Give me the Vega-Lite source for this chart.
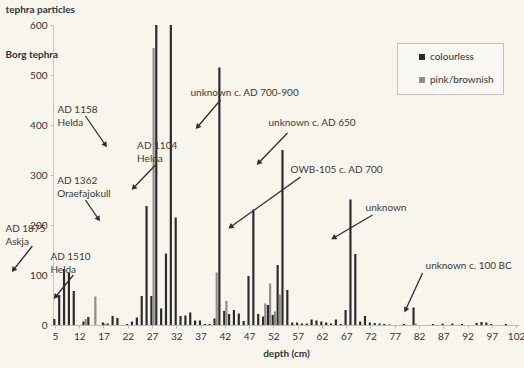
{
  "$schema": "https://vega.github.io/schema/vega-lite/v6.json",
  "autosize": {"type": "none"},
  "width": 466,
  "height": 300,
  "padding": {"left": 53, "top": 25, "right": 5, "bottom": 43},
  "background": "#f7f5ec",
  "config": {
    "view": {"stroke": null},
    "font": "Lato",
    "axis": {"labelFont": "Lato", "titleFont": "Lato", "labelColor": "#333", "titleColor": "#333"}
  },
  "datasets": {
    "bars": [
      {"depth": 5, "type": "colourless", "count": 12},
      {"depth": 6, "type": "colourless", "count": 60},
      {"depth": 8, "type": "colourless", "count": 112},
      {"depth": 10, "type": "colourless", "count": 105},
      {"depth": 11, "type": "colourless", "count": 68},
      {"depth": 13, "type": "colourless", "count": 7},
      {"depth": 13, "type": "pink/brownish", "count": 12},
      {"depth": 14, "type": "colourless", "count": 16},
      {"depth": 15, "type": "pink/brownish", "count": 57},
      {"depth": 17, "type": "colourless", "count": 5},
      {"depth": 17, "type": "pink/brownish", "count": 3},
      {"depth": 18, "type": "colourless", "count": 3},
      {"depth": 19, "type": "colourless", "count": 18},
      {"depth": 20, "type": "colourless", "count": 14},
      {"depth": 22, "type": "colourless", "count": 2},
      {"depth": 23, "type": "colourless", "count": 7},
      {"depth": 24, "type": "colourless", "count": 15},
      {"depth": 25, "type": "colourless", "count": 58},
      {"depth": 26, "type": "colourless", "count": 238},
      {"depth": 27, "type": "colourless", "count": 58},
      {"depth": 27, "type": "pink/brownish", "count": 554},
      {"depth": 28, "type": "colourless", "count": 640},
      {"depth": 29, "type": "colourless", "count": 33},
      {"depth": 30, "type": "colourless", "count": 143},
      {"depth": 31, "type": "colourless", "count": 640},
      {"depth": 32, "type": "colourless", "count": 215},
      {"depth": 33, "type": "colourless", "count": 18},
      {"depth": 34, "type": "colourless", "count": 19},
      {"depth": 35, "type": "colourless", "count": 25},
      {"depth": 36, "type": "colourless", "count": 9},
      {"depth": 37, "type": "colourless", "count": 9},
      {"depth": 38, "type": "colourless", "count": 2},
      {"depth": 39, "type": "colourless", "count": 2},
      {"depth": 40, "type": "colourless", "count": 13},
      {"depth": 40, "type": "pink/brownish", "count": 105},
      {"depth": 41, "type": "colourless", "count": 515},
      {"depth": 42, "type": "colourless", "count": 28},
      {"depth": 42, "type": "pink/brownish", "count": 48},
      {"depth": 43, "type": "colourless", "count": 22},
      {"depth": 44, "type": "colourless", "count": 30},
      {"depth": 45, "type": "colourless", "count": 23},
      {"depth": 46, "type": "colourless", "count": 8},
      {"depth": 47, "type": "colourless", "count": 98},
      {"depth": 48, "type": "colourless", "count": 231},
      {"depth": 49, "type": "colourless", "count": 22},
      {"depth": 50, "type": "colourless", "count": 17},
      {"depth": 50, "type": "pink/brownish", "count": 43},
      {"depth": 51, "type": "colourless", "count": 40},
      {"depth": 51, "type": "pink/brownish", "count": 83},
      {"depth": 52, "type": "colourless", "count": 20},
      {"depth": 52, "type": "pink/brownish", "count": 27},
      {"depth": 53, "type": "colourless", "count": 120},
      {"depth": 53, "type": "pink/brownish", "count": 61},
      {"depth": 54, "type": "colourless", "count": 350},
      {"depth": 55, "type": "colourless", "count": 70},
      {"depth": 56, "type": "colourless", "count": 5},
      {"depth": 57, "type": "colourless", "count": 5},
      {"depth": 58, "type": "colourless", "count": 3},
      {"depth": 59, "type": "colourless", "count": 3},
      {"depth": 60, "type": "colourless", "count": 11},
      {"depth": 61, "type": "colourless", "count": 9},
      {"depth": 62, "type": "colourless", "count": 7},
      {"depth": 63, "type": "colourless", "count": 5},
      {"depth": 64, "type": "colourless", "count": 3},
      {"depth": 65, "type": "colourless", "count": 11},
      {"depth": 66, "type": "colourless", "count": 2},
      {"depth": 67, "type": "colourless", "count": 30},
      {"depth": 68, "type": "colourless", "count": 251},
      {"depth": 69, "type": "colourless", "count": 142},
      {"depth": 70, "type": "colourless", "count": 7},
      {"depth": 71, "type": "colourless", "count": 18},
      {"depth": 72, "type": "colourless", "count": 5},
      {"depth": 73, "type": "colourless", "count": 4},
      {"depth": 74, "type": "colourless", "count": 3},
      {"depth": 75, "type": "colourless", "count": 2},
      {"depth": 76, "type": "colourless", "count": 1},
      {"depth": 79, "type": "colourless", "count": 2},
      {"depth": 81, "type": "colourless", "count": 35},
      {"depth": 81, "type": "pink/brownish", "count": 3},
      {"depth": 85, "type": "colourless", "count": 2},
      {"depth": 87, "type": "colourless", "count": 3},
      {"depth": 89, "type": "colourless", "count": 3},
      {"depth": 91, "type": "colourless", "count": 2},
      {"depth": 94, "type": "colourless", "count": 4},
      {"depth": 95, "type": "colourless", "count": 6},
      {"depth": 96, "type": "colourless", "count": 5},
      {"depth": 97, "type": "colourless", "count": 2},
      {"depth": 100, "type": "colourless", "count": 2}
    ],
    "notes": [
      {"x": 7.41, "y": 441, "t": "AD 1158|Helda"},
      {"x": 23.83, "y": 368, "t": "AD 1104|Helda"},
      {"x": 7.35, "y": 298, "t": "AD 1362|Oraefajokull"},
      {"x": -3.31, "y": 203, "t": "AD 1875|Askja"},
      {"x": 5.96, "y": 146, "t": "AD 1510|Helda"},
      {"x": 34.82, "y": 474, "t": "unknown c. AD 700-900"},
      {"x": 50.89, "y": 414, "t": "unknown c. AD 650"},
      {"x": 55.43, "y": 320, "t": "OWB-105 c. AD 700"},
      {"x": 70.89, "y": 244, "t": "unknown"},
      {"x": 83.25, "y": 128, "t": "unknown c. 100 BC"}
    ],
    "heads": [
      {"x": -3.31, "y": 551, "t": "Borg tephra"}
    ],
    "arrows": [
      {"x": 13.18, "y": 418, "x2": 17.30, "y2": 360, "a": 145},
      {"x": 27.60, "y": 320, "x2": 23.07, "y2": 274, "a": 224},
      {"x": 13.18, "y": 250, "x2": 15.86, "y2": 212, "a": 146},
      {"x": 2.25, "y": 158, "x2": -1.66, "y2": 110, "a": 218},
      {"x": 10.70, "y": 100, "x2": 6.99, "y2": 56, "a": 219},
      {"x": 41.00, "y": 450, "x2": 36.26, "y2": 396, "a": 220},
      {"x": 54.81, "y": 384, "x2": 48.83, "y2": 324, "a": 224},
      {"x": 57.49, "y": 296, "x2": 43.06, "y2": 196, "a": 234},
      {"x": 72.33, "y": 220, "x2": 64.29, "y2": 174, "a": 240},
      {"x": 82.63, "y": 104, "x2": 79.13, "y2": 30, "a": 205}
    ]
  },
  "layer": [
    {
      "mark": {"type": "rule", "color": "#d6d4cc", "strokeWidth": 1},
      "encoding": {"y": {"datum": 600, "type": "quantitative", "scale": {"domain": [0, 600]}}}
    },
    {
      "data": {"name": "bars"},
      "mark": {"type": "bar", "clip": true},
      "encoding": {
        "x": {
          "field": "depth",
          "type": "ordinal",
          "scale": {
            "domain": [5, 6, 8, 10, 11, 12, 13, 14, 15, 16, 17, 18, 19, 20, 21, 22, 23, 24, 25, 26, 27, 28, 29, 30, 31, 32, 33, 34, 35, 36, 37, 38, 39, 40, 41, 42, 43, 44, 45, 46, 47, 48, 49, 50, 51, 52, 53, 54, 55, 56, 57, 58, 59, 60, 61, 62, 63, 64, 65, 66, 67, 68, 69, 70, 71, 72, 73, 74, 75, 76, 77, 78, 79, 80, 81, 82, 83, 84, 85, 86, 87, 88, 89, 90, 91, 92, 93, 94, 95, 96, 97, 98, 99, 100, 101, 102],
            "paddingInner": 0.1,
            "paddingOuter": 0.05
          },
          "axis": {
            "values": [5, 12, 17, 22, 27, 32, 37, 42, 47, 52, 57, 62, 67, 72, 77, 82, 87, 92, 97, 102],
            "labelAngle": 0,
            "labelFontSize": 10,
            "tickSize": 3,
            "tickColor": "#bbb",
            "domainColor": "#bbb",
            "labelPadding": 3,
            "title": "depth (cm)",
            "titleFontSize": 10,
            "titleFontWeight": "bold",
            "titlePadding": 7
          }
        },
        "xOffset": {"field": "type", "type": "nominal", "scale": {"domain": ["colourless", "pink/brownish"]}},
        "y": {
          "field": "count",
          "type": "quantitative",
          "scale": {"domain": [0, 600], "nice": false},
          "axis": {
            "values": [0, 100, 200, 300, 400, 500, 600],
            "grid": false,
            "labelFontSize": 10,
            "tickSize": 3,
            "tickColor": "#bbb",
            "domainColor": "#c8c8c8",
            "labelPadding": 3,
            "title": "tephra particles",
            "titleAngle": 0,
            "titleAlign": "left",
            "titleBaseline": "middle",
            "titleX": -48,
            "titleY": -16,
            "titleFontSize": 10,
            "titleFontWeight": "bold"
          }
        },
        "color": {
          "field": "type",
          "type": "nominal",
          "scale": {"domain": ["colourless", "pink/brownish"], "range": ["#2b2b2b", "#8e8e8e"]},
          "legend": {
            "title": null,
            "orient": "none",
            "legendX": 344,
            "legendY": 18,
            "symbolType": "square",
            "symbolSize": 36,
            "symbolStrokeWidth": 0,
            "symbolOffset": 11,
            "labelFontSize": 10,
            "labelColor": "#333",
            "labelOffset": 3,
            "padding": 9,
            "rowPadding": 13,
            "strokeColor": "#c4c2ba",
            "fillColor": "#f9f8f2"
          }
        }
      }
    },
    {
      "layer": [
        {
          "data": {"name": "notes"},
          "mark": {"type": "text", "align": "left", "baseline": "top", "fontSize": 10, "lineBreak": "|", "lineHeight": 13, "color": "#3a3a3a", "font": "Lato"},
          "encoding": {
            "x": {"field": "x", "type": "quantitative", "scale": {"domain": [6.5, 102.5], "nice": false, "zero": false}, "axis": null},
            "y": {"field": "y", "type": "quantitative"},
            "text": {"field": "t"}
          }
        },
        {
          "data": {"name": "heads"},
          "mark": {"type": "text", "align": "left", "baseline": "top", "fontSize": 10, "fontWeight": "bold", "color": "#333", "font": "Lato"},
          "encoding": {
            "x": {"field": "x", "type": "quantitative", "scale": {"domain": [6.5, 102.5], "nice": false, "zero": false}, "axis": null},
            "y": {"field": "y", "type": "quantitative"},
            "text": {"field": "t"}
          }
        },
        {
          "data": {"name": "arrows"},
          "mark": {"type": "rule", "color": "#2e2e2e", "strokeWidth": 1.3},
          "encoding": {
            "x": {"field": "x", "type": "quantitative", "scale": {"domain": [6.5, 102.5], "nice": false, "zero": false}, "axis": null},
            "y": {"field": "y", "type": "quantitative"},
            "x2": {"field": "x2"},
            "y2": {"field": "y2"}
          }
        },
        {
          "data": {"name": "arrows"},
          "mark": {"type": "point", "shape": "triangle-up", "filled": true, "size": 36, "color": "#2e2e2e", "opacity": 1},
          "encoding": {
            "x": {"field": "x2", "type": "quantitative", "scale": {"domain": [6.5, 102.5], "nice": false, "zero": false}, "axis": null},
            "y": {"field": "y2", "type": "quantitative"},
            "angle": {"field": "a", "type": "quantitative", "scale": null}
          }
        }
      ]
    }
  ],
  "resolve": {"scale": {"x": "independent"}, "axis": {"x": "independent"}}
}
